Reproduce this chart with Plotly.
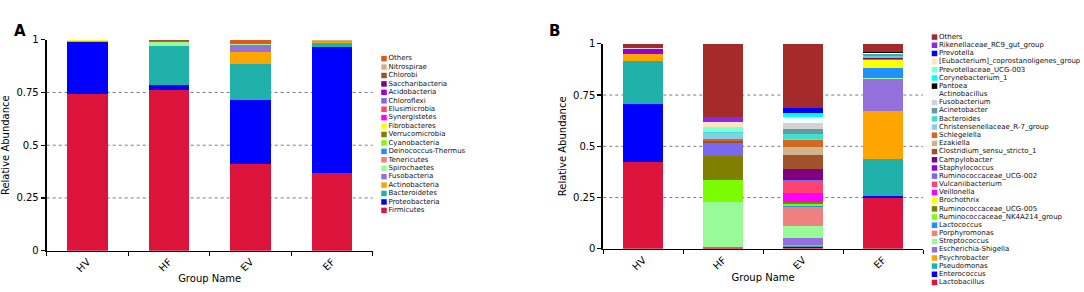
import plotly.graph_objects as go

# ---------------- data ----------------
groups = ["HV", "HF", "EV", "EF"]

# Panel A: phyla (legend order, top -> bottom)
phyla = ["Others", "Nitrospirae", "Chlorobi", "Saccharibacteria", "Acidobacteria",
         "Chloroflexi", "Elusimicrobia", "Synergistetes", "Fibrobacteres",
         "Verrucomicrobia", "Cyanobacteria", "Deinococcus-Thermus", "Tenericutes",
         "Spirochaetes", "Fusobacteria", "Actinobacteria", "Bacteroidetes",
         "Proteobacteria", "Firmicutes"]
hv_phylum = [0.002, 0, 0, 0, 0, 0, 0, 0, 0.002, 0, 0, 0, 0.001, 0, 0, 0.006, 0.001, 0.247, 0.741]
hf_phylum = [0.002, 0, 0.003, 0, 0, 0, 0, 0, 0, 0.006, 0, 0, 0.002, 0.016, 0, 0.002, 0.183, 0.025, 0.761]
ev_phylum = [0.014, 0, 0, 0, 0, 0, 0, 0, 0, 0, 0.003, 0.003, 0.002, 0.004, 0.030, 0.057, 0.171, 0.306, 0.410]
ef_phylum = [0.001, 0.003, 0, 0, 0, 0, 0, 0, 0, 0, 0, 0, 0.007, 0, 0.002, 0.002, 0.018, 0.598, 0.369]

# Panel B: genera (legend order, top -> bottom)
genera = ["Others", "Rikenellaceae_RC9_gut_group", "Prevotella",
          "[Eubacterium]_coprostanoligenes_group", "Prevotellaceae_UCG-003",
          "Corynebacterium_1", "Pantoea", "Actinobacillus", "Fusobacterium",
          "Acinetobacter", "Bacteroides", "Christensenellaceae_R-7_group",
          "Schlegelella", "Ezakiella", "Clostridium_sensu_stricto_1",
          "Campylobacter", "Staphylococcus", "Ruminococcaceae_UCG-002",
          "Vulcaniibacterium", "Veillonella", "Brochothrix",
          "Ruminococcaceae_UCG-005", "Ruminococcaceae_NK4A214_group",
          "Lactococcus", "Porphyromonas", "Streptococcus", "Escherichia-Shigella",
          "Psychrobacter", "Pseudomonas", "Enterococcus", "Lactobacillus"]
hv_genus = [0.018, 0, 0, 0, 0, 0, 0, 0, 0.006, 0, 0, 0, 0, 0, 0, 0, 0.027, 0, 0, 0, 0,
            0, 0, 0, 0, 0, 0, 0.031, 0.210, 0.283, 0.425]
hf_genus = [0.359, 0.020, 0, 0.025, 0.024, 0, 0, 0, 0, 0, 0.008, 0.030, 0.009, 0, 0.010,
            0, 0, 0.063, 0, 0, 0, 0.117, 0.105, 0, 0, 0.219, 0.006, 0.001, 0.001, 0.001, 0.002]
ev_genus = [0.313, 0.001, 0.024, 0, 0, 0.017, 0, 0.032, 0.028, 0.025, 0.025, 0.003, 0.036,
            0.039, 0.066, 0.055, 0, 0.005, 0.057, 0.048, 0, 0.008, 0.010, 0.002, 0.093,
            0.061, 0.035, 0.003, 0.004, 0.007, 0.003]
ef_genus = [0.039, 0, 0, 0, 0, 0, 0.007, 0.004, 0, 0.008, 0.012, 0, 0, 0, 0, 0.004, 0, 0,
            0.004, 0, 0.039, 0, 0, 0.048, 0.003, 0.003, 0.158, 0.234, 0.181, 0.006, 0.250]

y_tickvals = [0, 0.25, 0.5, 0.75, 1]
y_ticktext = ["0", "0.25", "0.5", "0.75", "1"]
grid_vals = [0.25, 0.5, 0.75]

# ---------------- styles ----------------
phylum_colors = ["#E2571E", "#D2B48C", "#A0522D", "#800080", "#9400D3", "#7B68EE",
                 "#FF4272", "#FF00FF", "#FFFF00", "#808000", "#7CFC00", "#1E90FF",
                 "#F08080", "#98FB98", "#9370DB", "#FFA500", "#20B2AA", "#0000FF",
                 "#DC143C"]
genus_colors = ["#A52A2A", "#8A2BE2", "#0000FF", "#FFE4C4", "#7FFFD4", "#00FFFF",
                "#000000", "#F0FFFF", "#D3D3D3", "#5F9EA0", "#40E0D0", "#87CEEB",
                "#D2691E", "#D2B48C", "#A0522D", "#800080", "#9400D3", "#7B68EE",
                "#FF4272", "#FF00FF", "#FFFF00", "#808000", "#7CFC00", "#1E90FF",
                "#F08080", "#98FB98", "#9370DB", "#FFA500", "#20B2AA", "#0000FF",
                "#DC143C"]

W, H = 1084, 292
FONT = "DejaVu Sans"


def fx(p):
    return p / W


def fy(p):
    return 1 - p / H


fig = go.Figure()

# stacked bars, panel A
phylum_table = [list(v) for v in zip(hv_phylum, hf_phylum, ev_phylum, ef_phylum)]
for name, color, vals in reversed(list(zip(phyla, phylum_colors, phylum_table))):
    fig.add_trace(go.Bar(x=groups, y=vals, name=name, width=0.5,
                         marker=dict(color=color, line=dict(width=0)),
                         xaxis="x", yaxis="y", showlegend=False))

# stacked bars, panel B
genus_table = [list(v) for v in zip(hv_genus, hf_genus, ev_genus, ef_genus)]
for name, color, vals in reversed(list(zip(genera, genus_colors, genus_table))):
    fig.add_trace(go.Bar(x=groups, y=vals, name=name, width=0.5,
                         marker=dict(color=color, line=dict(width=0)),
                         xaxis="x2", yaxis="y2", showlegend=False))

# compact legends drawn as marker+text traces
fig.add_trace(go.Scatter(x=[0] * len(phyla), y=list(range(len(phyla))), text=phyla,
                         mode="markers+text", textposition="middle right",
                         marker=dict(symbol="square", size=5.5, color=phylum_colors),
                         textfont=dict(size=7, color="#111111", family=FONT),
                         cliponaxis=False, hoverinfo="skip",
                         xaxis="x3", yaxis="y3", showlegend=False))
fig.add_trace(go.Scatter(x=[0] * len(genera), y=list(range(len(genera))), text=genera,
                         mode="markers+text", textposition="middle right",
                         marker=dict(symbol="square", size=5.5, color=genus_colors),
                         textfont=dict(size=7, color="#111111", family=FONT),
                         cliponaxis=False, hoverinfo="skip",
                         xaxis="x4", yaxis="y4", showlegend=False))

xcommon = dict(type="category", categoryorder="array", categoryarray=groups,
               range=[-0.5, len(groups) - 0.5], showline=True, linecolor="black",
               linewidth=1.5, ticks="outside", tickson="boundaries", ticklen=4,
               tickwidth=1, tickcolor="black", tickangle=-45, showgrid=False,
               tickfont=dict(size=10, color="black", family=FONT),
               title=dict(text="Group Name", font=dict(size=10, color="black", family=FONT),
                          standoff=0))
ycommon = dict(range=[0, 1], tickvals=y_tickvals, ticktext=y_ticktext, showline=True,
               linecolor="black", linewidth=2, ticks="outside", ticklen=4, tickwidth=1.2,
               tickcolor="black", showgrid=False, zeroline=False,
               tickfont=dict(size=10, color="black", family=FONT),
               title=dict(text="Relative Abundance", font=dict(size=10, color="black", family=FONT),
                          standoff=5))

# legend B vertical mapping
legB_top_px = 32.3
legB_step = 8.5
legB_dom_top = legB_top_px - legB_step / 2
legB_bottom_val = -0.5 + (H - legB_dom_top) / legB_step

fig.update_layout(
    width=W, height=H, margin=dict(l=0, r=0, t=0, b=0),
    paper_bgcolor="white", plot_bgcolor="white", barmode="stack",
    font=dict(family=FONT, color="black"),
    xaxis=dict(domain=[fx(46.7), fx(372.7)], anchor="y", **xcommon),
    yaxis=dict(domain=[fy(254.3), fy(35)], anchor="x", **ycommon),
    xaxis2=dict(domain=[fx(603.3), fx(923)], anchor="y2", **xcommon),
    yaxis2=dict(domain=[fy(252.3), fy(39.3)], anchor="x2", **ycommon),
    xaxis3=dict(domain=[fx(384), fx(500)], range=[0, 1], visible=False, anchor="y3"),
    yaxis3=dict(domain=[fy(54.7 + 18 * 8.76 + 4.38), fy(54.7 - 4.38)],
                range=[len(phyla) - 0.5, -0.5], visible=False, anchor="x3"),
    xaxis4=dict(domain=[fx(934.5), 1], range=[0, 1], visible=False, anchor="y4"),
    yaxis4=dict(domain=[0, fy(legB_dom_top)], range=[legB_bottom_val, -0.5],
                visible=False, anchor="x4"),
    annotations=[
        dict(text="<b>A</b>", x=fx(12), y=fy(15), xref="paper", yref="paper",
             showarrow=False, font=dict(size=15, color="black", family=FONT)),
        dict(text="<b>B</b>", x=fx(554), y=fy(15), xref="paper", yref="paper",
             showarrow=False, font=dict(size=15, color="black", family=FONT)),
    ],
)

shapes = []
for yref, xref in (("y", "x domain"), ("y2", "x2 domain")):
    for g in grid_vals:
        shapes.append(dict(type="line", xref=xref, yref=yref, x0=0, x1=1, y0=g, y1=g,
                           line=dict(color="#7a7a7a", width=1, dash="dot"), layer="below"))
fig.update_layout(shapes=shapes)

fig.write_html("out.html", config={"displayModeBar": False, "staticPlot": True},
               post_script="document.body.style.margin='0';document.body.style.overflow='hidden';")
